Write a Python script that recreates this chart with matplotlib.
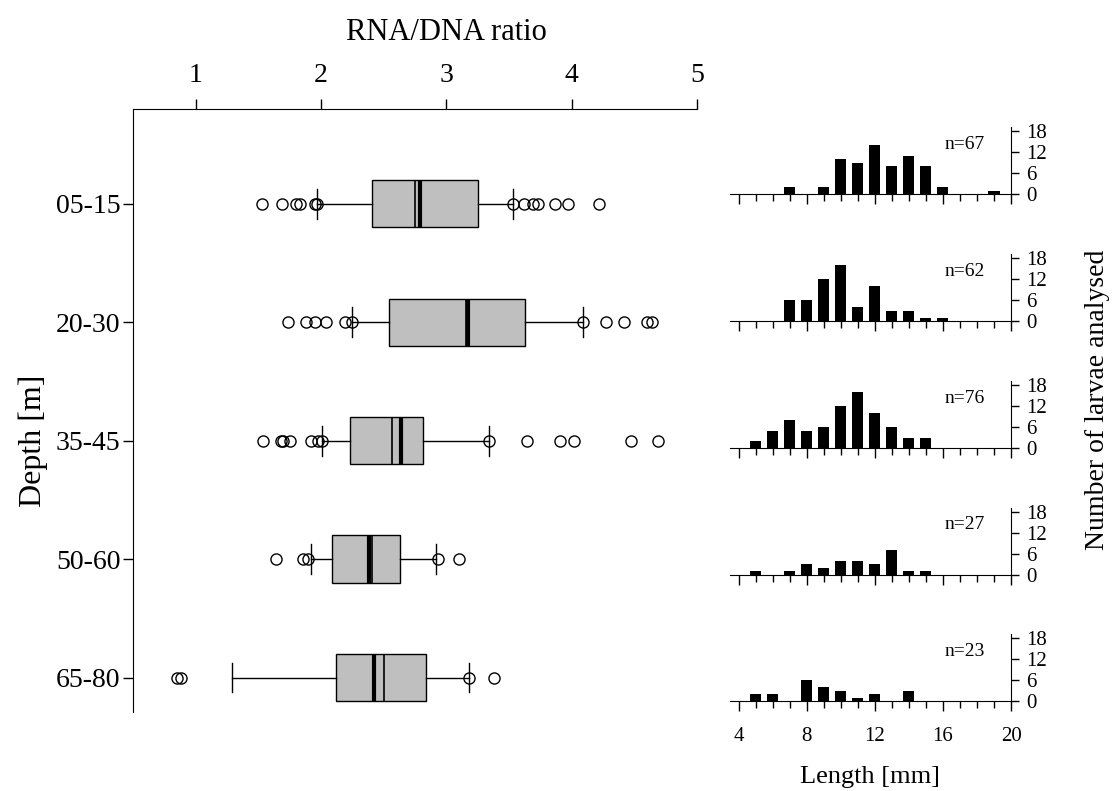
import numpy as np
import matplotlib
matplotlib.use('Agg')
import matplotlib.pyplot as plt

plt.rcParams['font.family'] = ['Liberation Serif', 'DejaVu Serif']

# RNA/DNA ratio per depth stratum (box statistics)
depths = ['05-15', '20-30', '35-45', '50-60', '65-80']
q1 = [2.41, 2.54, 2.23, 2.09, 2.12]
q3 = [3.25, 3.63, 2.81, 2.63, 2.84]
medians = [2.75, 3.16, 2.57, 2.41, 2.50]
means = [2.79, 3.17, 2.64, 2.38, 2.42]
whis_lo = [1.97, 2.25, 2.01, 1.92, 1.29]
whis_hi = [3.53, 4.09, 3.34, 2.92, 3.18]
outliers = [
    [1.53, 1.69, 1.80, 1.83, 1.95, 1.97, 3.53, 3.62, 3.69, 3.73, 3.87, 3.97, 4.22],
    [1.74, 1.88, 1.95, 2.04, 2.19, 2.25, 4.09, 4.27, 4.42, 4.60, 4.64],
    [1.54, 1.68, 1.70, 1.75, 1.92, 1.98, 2.01, 3.34, 3.64, 3.91, 4.02, 4.47, 4.69],
    [1.64, 1.86, 1.90, 2.93, 3.10],
    [0.85, 0.88, 3.18, 3.38],
]

# length frequency distributions (mm classes 4..19)
lengths = np.arange(4, 20)
counts = [
    [0, 0, 0, 2, 0, 2, 10, 9, 14, 8, 11, 8, 2, 0, 0, 1],
    [0, 0, 0, 6, 6, 12, 16, 4, 10, 3, 3, 1, 1, 0, 0, 0],
    [0, 2, 5, 8, 5, 6, 12, 16, 10, 6, 3, 3, 0, 0, 0, 0],
    [0, 1, 0, 1, 3, 2, 4, 4, 3, 7, 1, 1, 0, 0, 0, 0],
    [0, 2, 2, 0, 6, 4, 3, 1, 2, 0, 3, 0, 0, 0, 0, 0],
]

W, H = 1115, 791
fig = plt.figure(figsize=(W / 100, H / 100), dpi=100)

# ---- box plots
ax = fig.add_axes([133 / W, 1 - 712 / H, 564 / W, 603 / H])
stats = []
for i, d in enumerate(depths):
    stats.append(dict(label=d, q1=q1[i], q3=q3[i], med=medians[i], mean=means[i],
                      whislo=whis_lo[i], whishi=whis_hi[i], fliers=outliers[i]))

ax.bxp(stats, positions=range(1, 6), widths=0.4, orientation='horizontal',
       patch_artist=True, showmeans=True, meanline=True, capwidths=0.25,
       boxprops=dict(facecolor='#bfbfbf', edgecolor='black', linewidth=1),
       medianprops=dict(color='black', linewidth=1.2),
       meanprops=dict(color='black', linewidth=3, linestyle='-'),
       whiskerprops=dict(color='black', linewidth=1),
       capprops=dict(color='black', linewidth=1),
       flierprops=dict(marker='o', markerfacecolor='none', markeredgecolor='black',
                       markersize=8, markeredgewidth=1))

ax.set_xlim(0.5, 5)
ax.set_ylim(5.29, 0.2)
ax.xaxis.tick_top()
ax.set_xticks([1, 2, 3, 4, 5])
ax.set_yticks(range(1, 6))
ax.set_yticklabels(depths)
ax.spines['right'].set_visible(False)
ax.spines['bottom'].set_visible(False)
ax.tick_params(axis='x', direction='out', length=7, width=1, labelsize=20, pad=8)
ax.tick_params(axis='y', direction='out', length=7, width=1, labelsize=20, pad=2)

fig.text(446 / W, 1 - 32 / H, 'RNA/DNA ratio', fontsize=22, ha='center', va='center')
fig.text(33 / W, 1 - 441 / H, 'Depth [m]', fontsize=23, ha='center', va='center',
         rotation=90)

# ---- length histograms
baselines = [194, 321, 448, 574.5, 701]
for i, c in enumerate(counts):
    hax = fig.add_axes([730 / W, 1 - baselines[i] / H, 281 / W, 67 / H])
    hax.bar(lengths, c, width=0.65, color='black', linewidth=0)
    hax.set_xlim(3.5, 20)
    hax.set_ylim(0, 19.2)
    hax.spines['top'].set_visible(False)
    hax.spines['left'].set_visible(False)
    hax.yaxis.tick_right()
    hax.set_yticks([0, 6, 12, 18])
    hax.set_xticks([4, 8, 12, 16, 20])
    hax.set_xticks(np.arange(4, 21), minor=True)
    hax.tick_params(axis='y', direction='out', length=6, width=1, labelsize=15, pad=5)
    hax.tick_params(axis='x', which='major', direction='out', length=7, width=1,
                    labelsize=15, pad=12)
    hax.tick_params(axis='x', which='minor', direction='out', length=5, width=1)
    if i < len(counts) - 1:
        hax.tick_params(axis='x', labelbottom=False)
    hax.text(17.3, 14.3, f'n={sum(c)}', fontsize=14, ha='center', va='center')
    hax.patch.set_visible(False)

fig.text(870 / W, 1 - 777 / H, 'Length [mm]', fontsize=19, ha='center', va='center')
fig.text(1098 / W, 1 - 400 / H, 'Number of larvae analysed', fontsize=20,
         ha='center', va='center', rotation=90)

fig.savefig('out.png', dpi=100)
